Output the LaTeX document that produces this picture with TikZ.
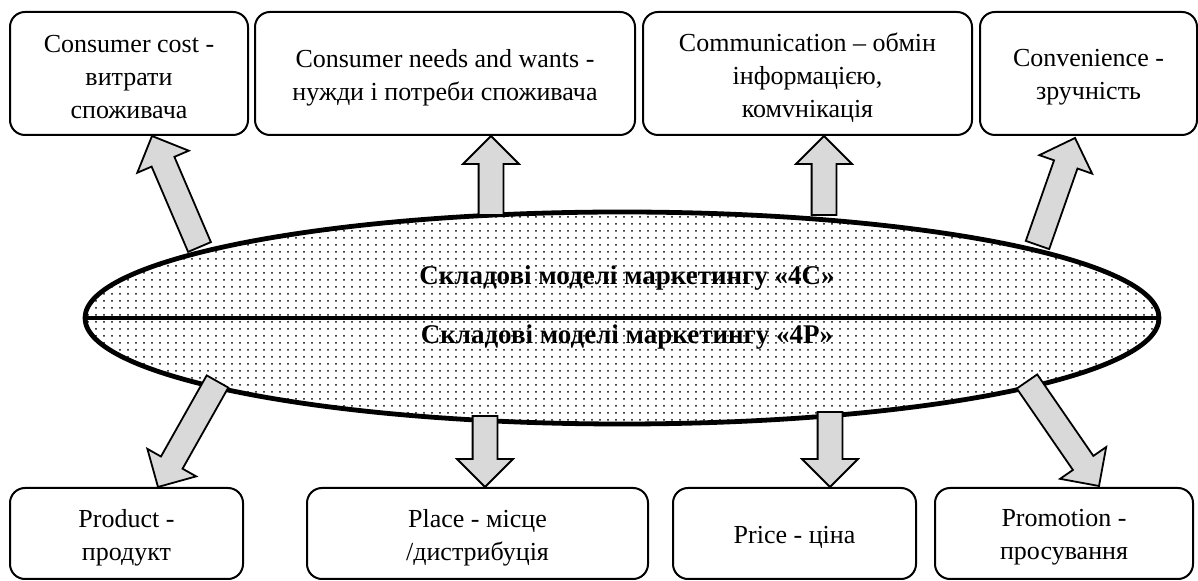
\documentclass[tikz,border=0pt]{standalone}
\usepackage{fontspec}
\setmainfont{Liberation Serif}
\usetikzlibrary{calc,patterns.meta}

% sparse dot raster for the central ellipse
\pgfdeclarepattern{
  name=sparsedots,
  type=uncolored,
  bottom left={\pgfpoint{0pt}{0pt}},
  top right={\pgfpoint{4.2pt}{3.3pt}},
  tile size={\pgfpoint{4.2pt}{3.3pt}},
  code={\pgfpathcircle{\pgfpoint{2.1pt}{1.65pt}}{0.55pt}\pgfusepath{fill}}
}

\tikzset{
  itembox/.style={draw=black, line width=1pt, rounded corners=7.5pt, fill=white, inner sep=0pt},
  boxtext/.style={align=center, inner sep=0pt, yshift=-2pt, font=\fontsize{13}{16.5}\selectfont},
  fatarrow/.style={draw=black, line width=0.9pt, fill=black!15, line join=miter},
  coretext/.style={font=\fontsize{13.5}{15}\selectfont\bfseries}
}

% block arrow from #1 (tail) to #2 (tip)
\newcommand\blockarrow[2]{%
  \path ($(#2)!14pt!(#1)$) coordinate (neck);
  \draw[fatarrow] ($(#1)!6.2pt!90:(#2)$) -- ($(neck)!6.2pt!90:(#2)$)
    -- ($(neck)!14pt!90:(#2)$) -- (#2) -- ($(neck)!14pt!-90:(#2)$)
    -- ($(neck)!6.2pt!-90:(#2)$) -- ($(#1)!6.2pt!-90:(#2)$) -- cycle;
}

\begin{document}
\begin{tikzpicture}[x=0.5pt,y=-0.5pt]
\useasboundingbox (0,0) rectangle (1198,581);

% upper row: the 4C components
\node[itembox, minimum width=119pt, minimum height=61.5pt,
  label={[boxtext]center:Consumer cost -\\витрати\\споживача}] (cost) at (129,73.5) {};
\node[itembox, minimum width=190pt, minimum height=61.5pt,
  label={[boxtext]center:Consumer needs and wants -\\нужди і потреби споживача}] (needs) at (445,73.5) {};
\node[itembox, minimum width=164.5pt, minimum height=61.5pt,
  label={[boxtext]center:Communication – обмін\\інформацією,\\комvнікація}] (comm) at (807.5,73.5) {};
\node[itembox, minimum width=108.5pt, minimum height=61.5pt,
  label={[boxtext]center:Convenience -\\зручність}] (conv) at (1088.5,73.5) {};

% lower row: the 4P components
\node[itembox, minimum width=116.5pt, minimum height=45.5pt,
  label={[boxtext]center:Product -\\продукт}] (prod) at (126.5,533.5) {};
\node[itembox, minimum width=170.5pt, minimum height=45.5pt,
  label={[boxtext]center:Place - місце\\/дистрибуція}] (place) at (477.5,533.5) {};
\node[itembox, minimum width=121.5pt, minimum height=45.5pt,
  label={[boxtext]center:Price - ціна}] (price) at (794.5,533.5) {};
\node[itembox, minimum width=129pt, minimum height=45.5pt,
  label={[boxtext]center:Promotion -\\просування}] (promo) at (1064,533.5) {};

% central ellipse split into the two models
\coordinate (core) at (622,318);
\fill[white] (core) ellipse [x radius=537, y radius=106];
\fill[pattern=sparsedots, pattern color=black] (core) ellipse [x radius=537, y radius=106];
\node[coretext] (c4) at (627,278) {Складові моделі маркетингу «4C»};
\node[coretext] (p4) at (627,337) {Складові моделі маркетингу «4P»};
\coordinate (midL) at (85,318);
\coordinate (midR) at (1159,318);
\draw[line width=2pt] (midL) -- (midR);
\draw[line width=2.4pt] (core) ellipse [x radius=537, y radius=106];

% arrow ends
\coordinate (costTail) at (199.5,247);
\coordinate (costTip) at (152,136);
\coordinate (needsTail) at (491,215);
\coordinate (needsTip) at (491,136);
\coordinate (commTail) at (824,215);
\coordinate (commTip) at (824,136);
\coordinate (convTail) at (1037.5,245);
\coordinate (convTip) at (1075,138);
\coordinate (prodTail) at (217.5,381.5);
\coordinate (prodTip) at (158,487);
\coordinate (placeTail) at (485,416);
\coordinate (placeTip) at (485,487);
\coordinate (priceTail) at (830,412);
\coordinate (priceTip) at (830,487);
\coordinate (promoTail) at (1027,381.5);
\coordinate (promoTip) at (1099,486);

\blockarrow{costTail}{costTip}
\blockarrow{needsTail}{needsTip}
\blockarrow{commTail}{commTip}
\blockarrow{convTail}{convTip}
\blockarrow{prodTail}{prodTip}
\blockarrow{placeTail}{placeTip}
\blockarrow{priceTail}{priceTip}
\blockarrow{promoTail}{promoTip}
\end{tikzpicture}
\end{document}
